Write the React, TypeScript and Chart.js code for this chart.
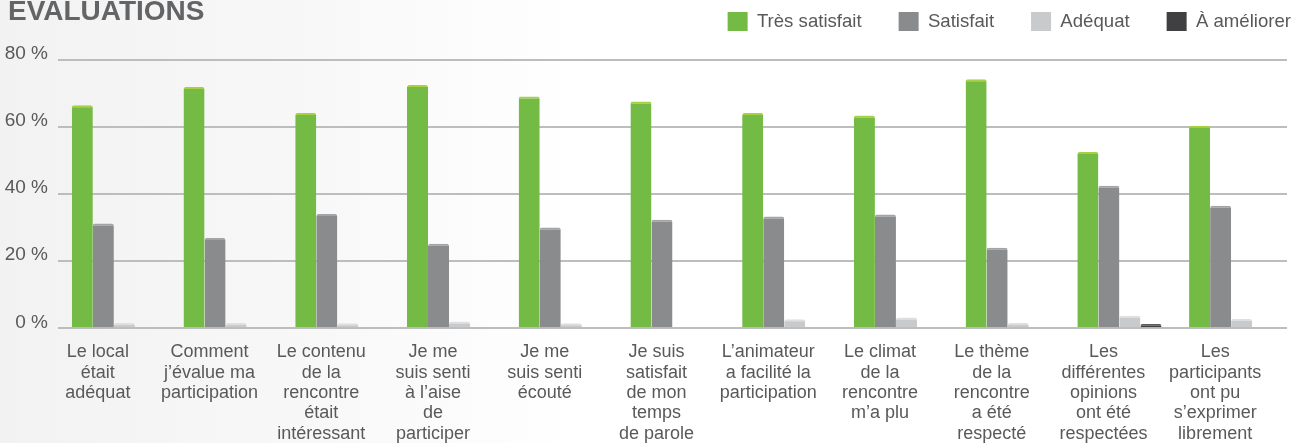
import React, { useEffect, useRef } from 'react';
import { Chart, registerables } from 'chart.js';

Chart.register(...registerables);

const categories: string[][] = [
  ['Le local', 'était', 'adéquat'],
  ['Comment', 'j’évalue ma', 'participation'],
  ['Le contenu', 'de la', 'rencontre', 'était', 'intéressant'],
  ['Je me', 'suis senti', 'à l’aise', 'de', 'participer'],
  ['Je me', 'suis senti', 'écouté'],
  ['Je suis', 'satisfait', 'de mon', 'temps', 'de parole'],
  ['L’animateur', 'a facilité la', 'participation'],
  ['Le climat', 'de la', 'rencontre', 'm’a plu'],
  ['Le thème', 'de la', 'rencontre', 'a été', 'respecté'],
  ['Les', 'différentes', 'opinions', 'ont été', 'respectées'],
  ['Les', 'participants', 'ont pu', 's’exprimer', 'librement'],
];

const seriesNames = ['Très satisfait', 'Satisfait', 'Adéquat', 'À améliorer'];
const tresSatisfait = [66.4, 71.8, 64.1, 72.4, 69.0, 67.5, 64.1, 63.3, 74.1, 52.5, 60.3];
const satisfait = [31.2, 26.9, 34.0, 25.2, 30.0, 32.3, 33.3, 33.9, 24.0, 42.4, 36.5];
const adequat = [1.6, 1.6, 1.5, 2.0, 1.5, 0, 2.7, 3.2, 1.6, 3.7, 2.8];
const aAmeliorer = [0, 0, 0, 0, 0, 0, 0, 0, 0, 1.3, 0];
const yTickValues = [0, 20, 40, 60, 80];
const titleText = 'EVALUATIONS';

const FONT = '"Liberation Sans", Arial, Helvetica, sans-serif';
const fills = ['#73bb44', '#8a8b8d', '#c9cacc', '#404042'];
const caps = ['#a9cf45', '#a3a4a6', '#dedfe0', '#5a5a5c'];

const legendShift = {
  id: 'legendShift',
  afterLayout(chart: any) {
    const l = chart.legend;
    if (!l) return;
    l.left += 41;
    l.right += 41;
    l.top -= 18.5;
    l.bottom -= 18.5;
  },
};

export default function App() {
  const ref = useRef<HTMLCanvasElement | null>(null);

  useEffect(() => {
    if (!ref.current) return;
    const series = [tresSatisfait, satisfait, adequat, aAmeliorer];
    const chart = new Chart(ref.current, {
      type: 'bar',
      data: {
        labels: categories,
        datasets: series.map((d, i) => ({
          label: seriesNames[i],
          data: d,
          backgroundColor: fills[i],
          borderColor: caps[i],
          borderWidth: { top: 2, left: 0, right: 0, bottom: 0 },
          borderSkipped: false,
          borderRadius: { topLeft: 2, topRight: 2, bottomLeft: 0, bottomRight: 0 },
          categoryPercentage: 0.753,
          barPercentage: 1,
        })),
      },
      options: {
        responsive: false,
        animation: false,
        layout: { padding: { top: -6.5, left: 0, right: 6, bottom: 0 } },
        plugins: {
          title: { display: false },
          tooltip: { enabled: false },
          legend: {
            position: 'top',
            align: 'end',
            labels: {
              boxWidth: 20,
              boxHeight: 19,
              padding: 37,
              color: '#58595b',
              font: { family: FONT, size: 18.6 },
              generateLabels: (c: any) =>
                Chart.defaults.plugins.legend.labels
                  .generateLabels(c)
                  .map((it: any) => ({ ...it, lineWidth: 0, strokeStyle: 'rgba(0,0,0,0)' })),
            },
          },
        },
        scales: {
          x: {
            grid: { display: false, drawTicks: false },
            border: { display: false },
            ticks: {
              autoSkip: false,
              maxRotation: 0,
              minRotation: 0,
              padding: 14,
              labelOffset: -16,
              color: '#58595b',
              font: { family: FONT, size: 18, lineHeight: 1.13 },
            },
          },
          y: {
            min: 0,
            max: 80,
            afterFit: (s: any) => {
              s.width = 58;
            },
            afterBuildTicks: (s: any) => {
              s.ticks = yTickValues.map((v) => ({ value: v }));
            },
            grid: { color: '#bdbdbd', lineWidth: 2, drawTicks: false },
            border: { display: false },
            ticks: {
              padding: 10,
              labelOffset: -6,
              color: '#58595b',
              font: { family: FONT, size: 19 },
              callback: (v: any) => v + ' %',
            },
          },
        },
      },
      plugins: [legendShift],
    } as any);
    return () => chart.destroy();
  }, []);

  return (
    <div
      style={{
        position: 'absolute',
        left: 0,
        top: 0,
        width: 1293,
        height: 443,
        overflow: 'hidden',
        background: 'linear-gradient(to right, #f2f2f2 0%, #f8f8f8 25%, #ffffff 45%, #ffffff 100%)',
      }}
    >
      <canvas ref={ref} width={1293} height={458} style={{ display: 'block', width: 1293, height: 458 }} />
      <div
        style={{
          position: 'absolute',
          left: 8,
          top: -3,
          font: `bold 28px ${FONT}`,
          lineHeight: '28px',
          color: '#636466',
          whiteSpace: 'nowrap',
        }}
      >
        {titleText}
      </div>
    </div>
  );
}
